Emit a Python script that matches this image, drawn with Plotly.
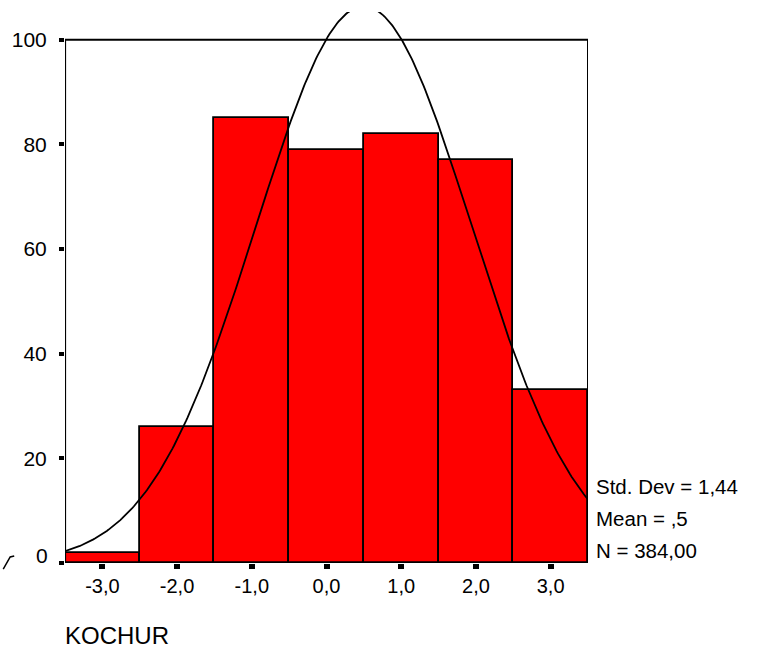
import math
import plotly.graph_objects as go

# ---- data ----
BIN_CENTERS = [-3, -2, -1, 0, 1, 2, 3]
COUNTS = [2, 26, 85, 79, 82, 77, 33]
X_TICK_LABELS = ["-3,0", "-2,0", "-1,0", "0,0", "1,0", "2,0", "3,0"]
Y_TICKS = [0, 20, 40, 60, 80, 100]
Y_TICK_LABELS = ["", "20", "40", "60", "80", "100"]
STD_DEV = 1.44
MEAN = 0.5
N = 384
BIN_WIDTH = 1.0
VAR_NAME = "KOCHUR"
STATS_LINES = ["Std. Dev = 1,44", "Mean = ,5", "N = 384,00"]

# ---- geometry ----
W, H = 769, 649
ML, MR, MT, MB = 63, 181, 12, 86
PW, PH = W - ML - MR, H - MT - MB
XR = [-3.5, 3.5]
YR = [0, 105.3]
FONT = "Liberation Sans, Arial, sans-serif"


def px2paper(px):
    return (px - ML) / PW


def py2paper(py):
    return (H - MB - py) / PH


def py2data(py):
    return (H - MB - py) / PH * (YR[1] - YR[0]) + YR[0]


# normal curve fitted from the shown statistics
n_pts = 351
curve_x = [XR[0] + i * (XR[1] - XR[0]) / (n_pts - 1) for i in range(n_pts)]
scale = N * BIN_WIDTH / (STD_DEV * math.sqrt(2 * math.pi))
curve_y = [scale * math.exp(-0.5 * ((x - MEAN) / STD_DEV) ** 2) for x in curve_x]

fig = go.Figure()
fig.add_trace(go.Bar(
    x=BIN_CENTERS, y=COUNTS, width=BIN_WIDTH,
    marker=dict(color="#FF0000", line=dict(color="black", width=1.8)),
    hoverinfo="skip", showlegend=False,
))
fig.add_trace(go.Scatter(
    x=curve_x, y=curve_y, mode="lines",
    line=dict(color="black", width=1.8),
    hoverinfo="skip", showlegend=False,
))

shapes = [
    dict(type="line", xref="x", yref="y", x0=XR[0], x1=XR[0], y0=0, y1=100,
         line=dict(color="black", width=2.2), layer="above"),
    dict(type="line", xref="x", yref="y", x0=XR[0], x1=XR[1], y0=100, y1=100,
         line=dict(color="black", width=2), layer="above"),
    dict(type="line", xref="x", yref="y", x0=XR[1], x1=XR[1], y0=0, y1=100,
         line=dict(color="black", width=2), layer="above"),
    dict(type="line", xref="x", yref="y", x0=XR[0], x1=XR[1], y0=0, y1=0,
         line=dict(color="black", width=2.2), layer="above"),
    # small stray glyph at the lower left corner
    dict(type="path", xref="paper", yref="paper",
         path="M {:.4f},{:.4f} L {:.4f},{:.4f} L {:.4f},{:.4f}".format(
             px2paper(1), py2paper(569), px2paper(8), py2paper(557),
             px2paper(12), py2paper(556)),
         line=dict(color="black", width=1.5)),
]

annotations = [
    dict(text="0", xref="paper", yref="y", x=px2paper(48), y=py2data(555),
         xanchor="right", yanchor="middle", showarrow=False,
         font=dict(family=FONT, size=21, color="black")),
    dict(text=VAR_NAME, xref="paper", yref="paper", x=px2paper(61), y=py2paper(635),
         xanchor="left", yanchor="middle", showarrow=False,
         font=dict(family=FONT, size=24, color="black")),
]
for i, line in enumerate(STATS_LINES):
    annotations.append(dict(
        text=line, xref="paper", yref="paper", x=px2paper(594),
        y=py2paper(486 + 32 * i), xanchor="left", yanchor="middle",
        showarrow=False, font=dict(family=FONT, size=20.5, color="black")))

fig.update_layout(
    width=W, height=H, autosize=False,
    margin=dict(l=ML, r=MR, t=MT, b=MB, pad=0),
    paper_bgcolor="white", plot_bgcolor="white",
    bargap=0,
    shapes=shapes, annotations=annotations,
    xaxis=dict(range=XR, tickvals=BIN_CENTERS, ticktext=X_TICK_LABELS,
               ticks="outside", ticklen=5, tickwidth=6, tickcolor="black",
               showgrid=False, zeroline=False, showline=False,
               tickfont=dict(family=FONT, size=20, color="black"),
               fixedrange=True),
    yaxis=dict(range=YR, tickvals=Y_TICKS, ticktext=Y_TICK_LABELS,
               ticks="outside", ticklen=5, tickwidth=4, tickcolor="black",
               showgrid=False, zeroline=False, showline=False,
               tickfont=dict(family=FONT, size=21, color="black"),
               ticklabelstandoff=8, fixedrange=True),
)

fig.write_html("out.html", config={"displayModeBar": False})
